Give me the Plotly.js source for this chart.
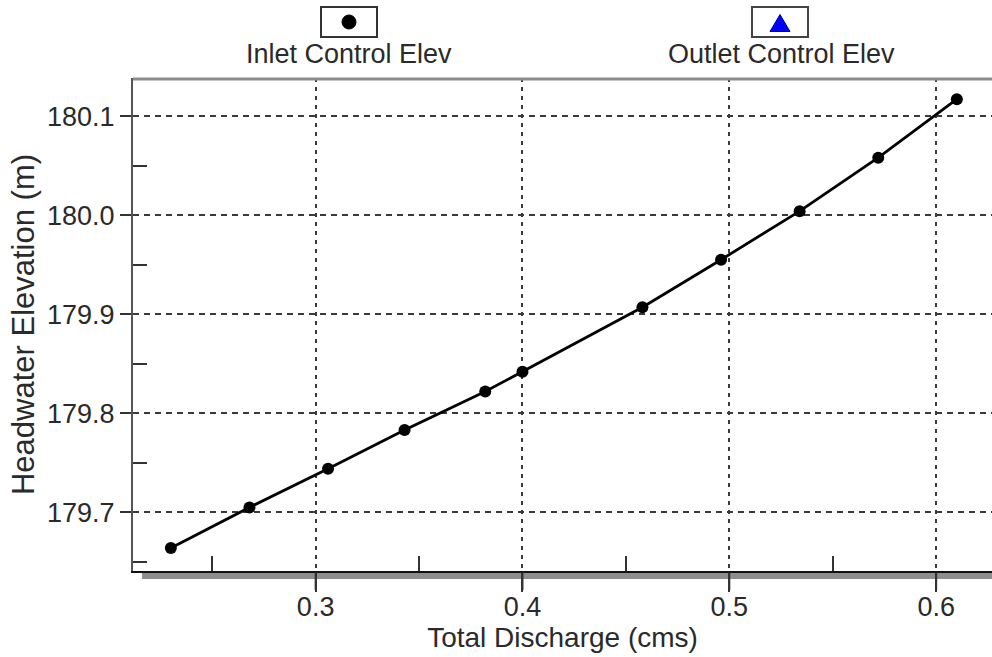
<!DOCTYPE html>
<html>
<head>
<meta charset="utf-8">
<script src="https://cdn.plot.ly/plotly-3.0.1.min.js"></script>
<style>html,body{margin:0;padding:0;background:#fff;}#chart{width:992px;height:657px;}</style>
</head>
<body>
<div id="chart"></div>
<script>
// Data
const discharge = [0.230, 0.268, 0.306, 0.343, 0.382, 0.400, 0.458, 0.496, 0.534, 0.572, 0.610];
const inletElev = [179.664, 179.705, 179.744, 179.783, 179.822, 179.842, 179.907, 179.955, 180.004, 180.058, 180.117];
const seriesNames = ["Inlet Control Elev", "Outlet Control Elev"];
const xTickVals = [0.3, 0.4, 0.5, 0.6];
const xTickText = ["0.3", "0.4", "0.5", "0.6"];
const yTickVals = [179.7, 179.8, 179.9, 180.0, 180.1];
const yTickText = ["179.7", "179.8", "179.9", "180.0", "180.1"];

const W = 992, H = 657;
const M = {l: 133, r: 0, t: 78, b: 86};
const PW = W - M.l - M.r, PH = H - M.t - M.b;
const px = x => (x - M.l) / PW;
const py = y => (H - M.b - y) / PH;

const FONT = "Liberation Sans, Arial, sans-serif";
const TXT = "#2a2a2a";
const X_RANGE = [0.2117, 0.627];
const Y_RANGE = [179.6408, 180.1384];

const traces = [
  {
    type: "scatter", mode: "lines+markers",
    x: discharge, y: inletElev, name: seriesNames[0],
    line: {color: "#000", width: 2.8},
    marker: {symbol: "circle", color: "#000", size: 12},
    showlegend: false, cliponaxis: false
  }
];

function tri(cx, cy, w, h) {
  return `M ${px(cx - w/2)} ${py(cy + h/2)} L ${px(cx + w/2)} ${py(cy + h/2)} L ${px(cx)} ${py(cy - h/2)} Z`;
}

const shapes = [
  // top border
  {type: "line", xref: "paper", yref: "paper", x0: 0, x1: 1, y0: py(79), y1: py(79), line: {color: "#8c8c8c", width: 3}},
  // bottom shadow band
  {type: "rect", xref: "paper", yref: "paper", x0: px(142), x1: 1, y0: py(579), y1: py(573), fillcolor: "#8e8e8e", line: {width: 0}, layer: "below"},
  // legend boxes
  {type: "rect", xref: "paper", yref: "paper", x0: px(321), x1: px(377), y0: py(37), y1: py(7), line: {color: "#333", width: 2}, fillcolor: "rgba(0,0,0,0)"},
  {type: "rect", xref: "paper", yref: "paper", x0: px(752), x1: px(808), y0: py(37), y1: py(7), line: {color: "#444", width: 2}, fillcolor: "rgba(0,0,0,0)"},
  // legend symbols
  {type: "circle", xref: "paper", yref: "paper", x0: px(342), x1: px(356), y0: py(29), y1: py(15), fillcolor: "#000", line: {color: "#000", width: 1}},
  {type: "path", xref: "paper", yref: "paper", path: tri(780, 23, 20, 17), fillcolor: "#0000ff", line: {color: "#00008a", width: 1}}
];

const annotations = [
  {xref: "paper", yref: "paper", x: px(349), y: py(54), text: seriesNames[0], showarrow: false, xanchor: "center", yanchor: "middle", font: {family: FONT, size: 27, color: TXT}},
  {xref: "paper", yref: "paper", x: px(781), y: py(54), text: seriesNames[1], showarrow: false, xanchor: "center", yanchor: "middle", font: {family: FONT, size: 27, color: TXT}}
].concat(
  // long major x ticks hanging below the shadow band (drawn as arrow-less annotation lines)
  xTickVals.map(v => ({
    xref: "x", yref: "paper", x: v, y: py(590), text: "", showarrow: true,
    arrowhead: 0, arrowwidth: 2, arrowcolor: "#333", ax: 0, ay: -19, standoff: 0, startstandoff: 0
  }))
);

const layout = {
  width: W, height: H,
  margin: M,
  paper_bgcolor: "#fff", plot_bgcolor: "#fff",
  font: {family: FONT, color: TXT},
  showlegend: false,
  xaxis: {
    range: X_RANGE,
    tickvals: xTickVals, ticktext: xTickText,
    ticks: "outside", ticklen: 19, tickwidth: 2, tickcolor: "#333",
    ticklabelstandoff: -8,
    tickfont: {family: FONT, size: 27, color: TXT},
    showline: true, linecolor: "#111", linewidth: 2,
    showgrid: true, gridcolor: "#3a3a3a", gridwidth: 2, griddash: "4px,5px",
    minor: {dtick: 0.1, tick0: 0.25, ticks: "inside", ticklen: 15, tickwidth: 2, tickcolor: "#333", showgrid: false},
    zeroline: false,
    title: {text: "Total Discharge (cms)", font: {family: FONT, size: 28, color: TXT}, standoff: 6},
    automargin: false
  },
  yaxis: {
    range: Y_RANGE,
    tickvals: yTickVals, ticktext: yTickText,
    ticks: "outside", ticklen: 11, tickwidth: 2, tickcolor: "#333",
    tickfont: {family: FONT, size: 27, color: TXT},
    showline: true, linecolor: "#555", linewidth: 2,
    showgrid: true, gridcolor: "#3a3a3a", gridwidth: 2, griddash: "6px,5px",
    minor: {dtick: 0.1, tick0: 179.65, ticks: "inside", ticklen: 14, tickwidth: 2, tickcolor: "#333", showgrid: false},
    zeroline: false,
    title: {text: "Headwater Elevation (m)", font: {family: FONT, size: 31, color: TXT}, standoff: 3},
    automargin: false
  },
  shapes: shapes,
  annotations: annotations
};

Plotly.newPlot("chart", traces, layout, {displayModeBar: false, staticPlot: true});
</script>
</body>
</html>
